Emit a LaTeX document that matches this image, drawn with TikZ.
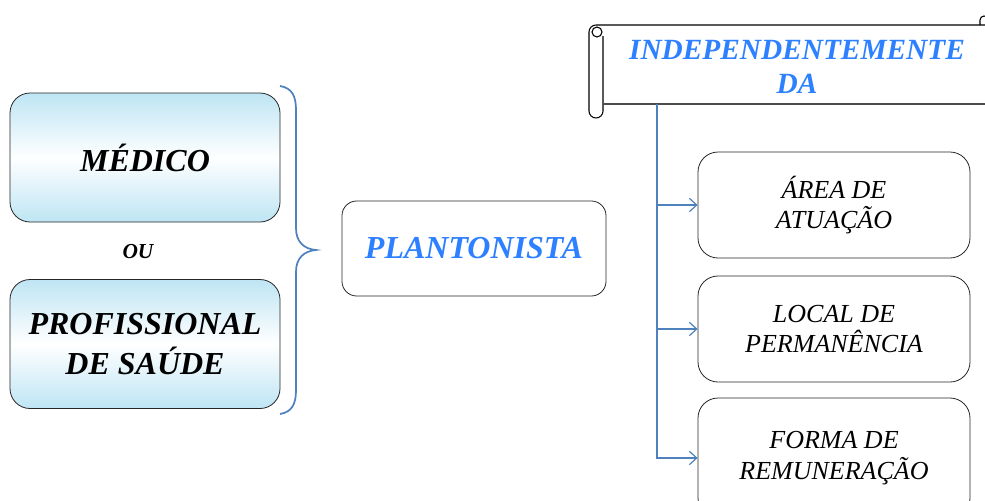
\documentclass[tikz,border=0pt]{standalone}
\usepackage{fontspec}
\setmainfont{Liberation Serif}
\usepackage{xcolor}
\usepackage{tikz}
\usetikzlibrary{arrows.meta}
\definecolor{textblue}{RGB}{45,128,255}
\definecolor{linkblue}{RGB}{79,129,189}
\definecolor{boxcyan}{RGB}{190,229,244}

\begin{document}
\begin{tikzpicture}[x=0.75pt, y=-0.75pt,
  leftbox/.style={draw=black!85, line width=0.6pt, rounded corners=15pt,
    minimum width=202.5pt, minimum height=96.75pt, align=center,
    top color=boxcyan, bottom color=boxcyan, middle color=white,
    font=\fontsize{24}{30}\selectfont\bfseries\itshape},
  rightbox/.style={draw=black!85, line width=0.6pt, rounded corners=15pt,
    minimum width=204pt, minimum height=79.5pt, align=center,
    font=\fontsize{19.5}{23}\selectfont\itshape},
  link/.style={draw=linkblue, line width=0.9pt, -{Straight Barb[length=5.5pt,width=10pt]}}]
  \useasboundingbox (0,0) rectangle (985,500);

  % left side
  \node[leftbox] (medico) at (145,157.5) {MÉDICO};
  \node[font=\fontsize{16}{18}\selectfont\bfseries\itshape] (ou) at (138,252) {OU};
  \node[leftbox] (profissional) at (145,344) {PROFISSIONAL\\DE SAÚDE};
  \draw[linkblue, line width=1.3pt] (280,86) .. controls (292,88) and (296,96) .. (296,110)
    -- (296,228) .. controls (296,242) and (304,249) .. (316,250)
    .. controls (304,251) and (296,258) .. (296,272)
    -- (296,390) .. controls (296,404) and (292,412) .. (280,414);

  % middle
  \node[draw=black!85, line width=0.6pt, rounded corners=11pt, minimum width=198pt,
    minimum height=71.25pt, text=textblue,
    font=\fontsize{24}{30}\selectfont\bfseries\itshape] (plantonista) at (474,248.5) {PLANTONISTA};

  % scroll
  \draw[line width=0.8pt] (603,36) -- (603,111) arc[start angle=0, end angle=180, radius=7]
    -- (589,32) arc[start angle=180, end angle=270, radius=7] -- (985,25);
  \draw[line width=0.8pt] (597,32) circle (5);
  \draw[black!70, line width=1.2pt] (603,104) -- (985,104);
  \draw[line width=0.8pt] (980,25) -- (980,20) arc[start angle=180, end angle=330, radius=4];
  \node[align=center, text=textblue,
    font=\fontsize{22}{26}\selectfont\bfseries\itshape] (banner) at (797,67) {INDEPENDENTEMENTE\\DA};

  % right side
  \node[rightbox] (area) at (834,205) {ÁREA DE\\ATUAÇÃO};
  \node[rightbox] (local) at (834,329) {LOCAL DE\\PERMANÊNCIA};
  \node[rightbox, minimum height=90pt] (forma) at (834,458) {FORMA DE\\REMUNERAÇÃO};
  \coordinate (trunk) at (657,104);
  \draw[link] (trunk) |- (area.west);
  \draw[link] (trunk) |- (local.west);
  \draw[link] (trunk) |- (forma.west);
\end{tikzpicture}
\end{document}
